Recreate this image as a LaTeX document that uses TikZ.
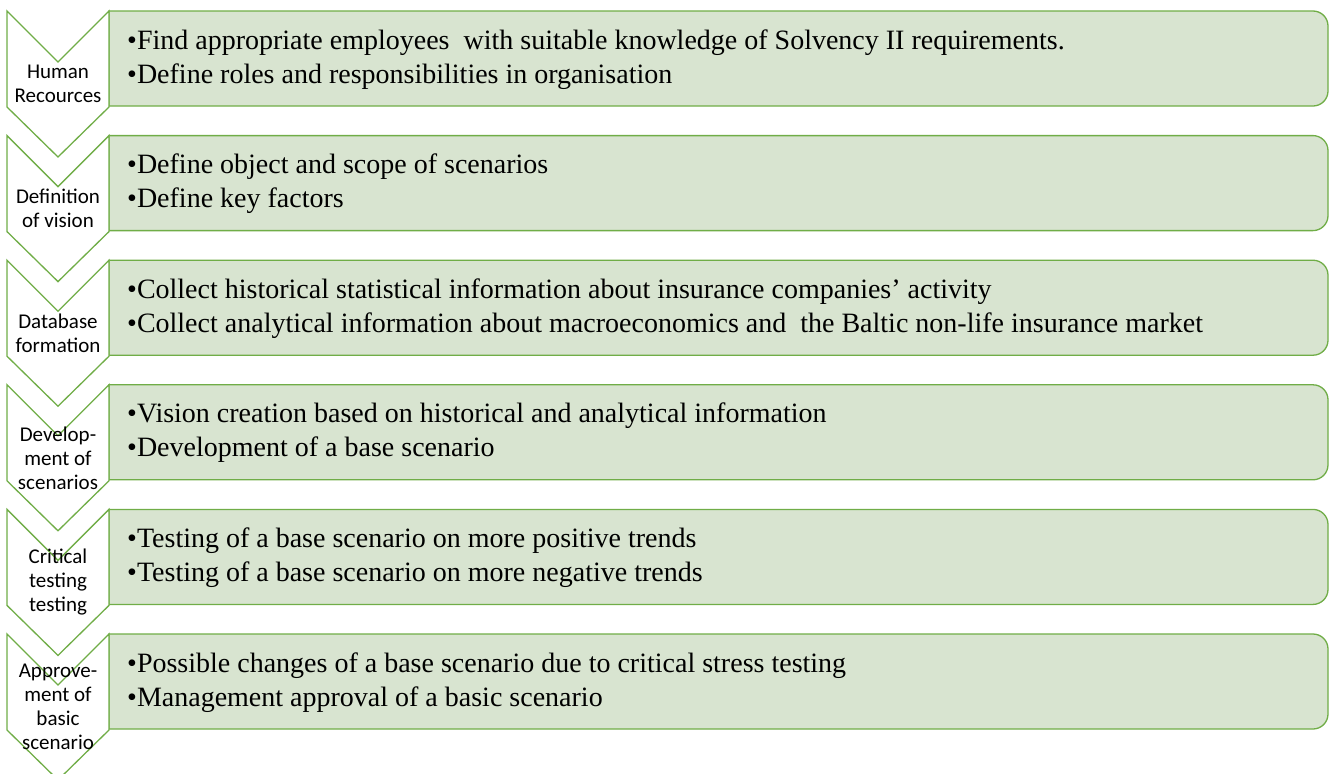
\documentclass[tikz,border=0pt]{standalone}
\usepackage{fontspec}
\setmainfont{Liberation Serif}
\newfontfamily\labelfont{Carlito}
\definecolor{chevgreen}{HTML}{70AD47}
\definecolor{boxfill}{HTML}{D8E4D0}
\begin{document}
\begin{tikzpicture}[x=1pt,y=-1pt,
  chev/.style={draw=chevgreen, fill=white, line width=1.3pt, line join=miter},
  infobox/.style={draw=chevgreen, fill=boxfill, line width=1.3pt},
  steplabel/.style={font=\labelfont\fontsize{21}{24}\selectfont, align=center, inner sep=0pt},
  bulletline/.style={font=\fontsize{28}{34}\selectfont, anchor=base west, inner sep=0pt}]
\useasboundingbox (0,0) rectangle (1334,774);

% one row per stage: index / step label / first bullet / second bullet
\foreach \i/\lab/\first/\second in {
  0/{Human\\Recources}/{Find appropriate employees~ with suitable knowledge of Solvency II requirements.}/{Define roles and responsibilities in organisation},
  1/{Definition\\of vision}/{Define object and scope of scenarios}/{Define key factors},
  2/{Database\\formation}/{Collect historical statistical information about insurance companies’ activity}/{Collect analytical information about macroeconomics and~ the Baltic non-life insurance market},
  3/{Develop-\\ment of\\scenarios}/{Vision creation based on historical and analytical information}/{Development of a base scenario},
  4/{Critical\\testing\\testing}/{Testing of a base scenario on more positive trends}/{Testing of a base scenario on more negative trends},
  5/{Approve-\\ment of\\basic\\scenario}/{Possible changes of a base scenario due to critical stress testing}/{Management approval of a basic scenario}}
{
  \pgfmathsetmacro{\t}{11+124.6*\i}
  % text panel, square on the left, rounded on the right
  \draw[infobox] (109,\t) -- (1200,\t) [rounded corners=15pt] -- (1328,\t)
        -- (1328,\t+95) -- (1200,\t+95) [sharp corners] -- (109,\t+95) -- cycle;
  % chevron pointing down
  \draw[chev] (7,\t) -- (58,\t+51) -- (109,\t) -- (109,\t+96)
        -- (58,\t+146) -- (7,\t+96) -- cycle;
  \node[steplabel] (step\i) at (58,\t+73) {\lab};
  \node[bulletline] (itemA\i) at (127,\t+38) {•\first};
  \node[bulletline] (itemB\i) at (127,\t+72) {•\second};
}
\end{tikzpicture}
\end{document}
